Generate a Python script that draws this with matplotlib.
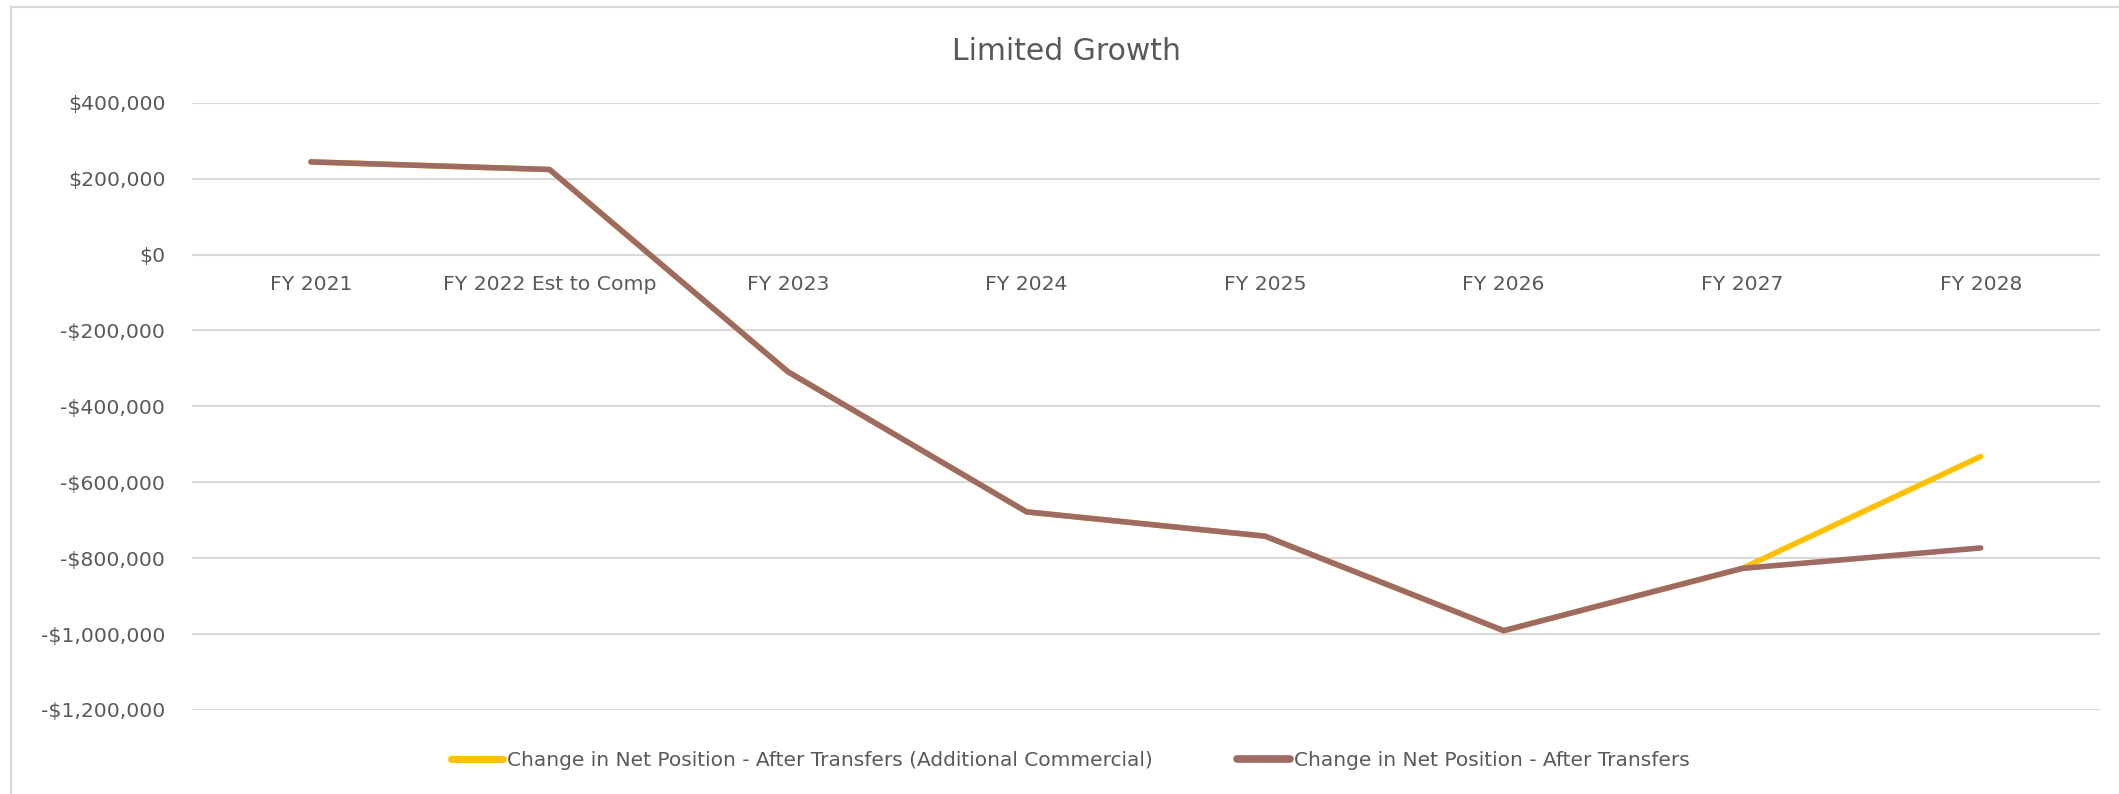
import matplotlib
matplotlib.use("Agg")
import matplotlib.pyplot as plt
from matplotlib.ticker import FuncFormatter, MultipleLocator
from matplotlib.lines import Line2D

categories = ["FY 2021", "FY 2022 Est to Comp", "FY 2023", "FY 2024", "FY 2025",
              "FY 2026", "FY 2027", "FY 2028"]
additional_commercial = [244000, 224000, -309000, -678000, -742000, -991000, -827000, -532000]
after_transfers = [244000, 224000, -309000, -678000, -742000, -991000, -827000, -773000]
title = "Limited Growth"
label_add = "Change in Net Position - After Transfers (Additional Commercial)"
label_base = "Change in Net Position - After Transfers"

plt.rcParams['font.family'] = ['DejaVu Sans']
TXT = "#595959"
GRID = "#d9d9d9"
YEL = "#FFC000"
BRN = "#9E6B64"

W, H = 2119, 794
fig = plt.figure(figsize=(W / 100, H / 100), dpi=100)
ax = fig.add_axes([191.7 / W, 1 - 710 / H, (2100 - 191.7) / W, (710 - 102.7) / H])

x = list(range(len(categories)))
ax.plot(x, additional_commercial, color=YEL, lw=4.0, solid_capstyle='round',
        solid_joinstyle='round', zorder=3)
ax.plot(x, after_transfers, color=BRN, lw=4.0, solid_capstyle='round',
        solid_joinstyle='round', zorder=4)

ax.set_xlim(-0.5, len(categories) - 0.5)
ax.set_ylim(-1200000, 400000)
ax.yaxis.set_major_locator(MultipleLocator(200000))

def fmt(v, pos):
    v = int(round(v))
    if v < 0:
        return "-${:,}".format(-v)
    return "${:,}".format(v)

ax.yaxis.set_major_formatter(FuncFormatter(fmt))
ax.set_xticks(x)
ax.set_xticklabels(categories)
ax.grid(axis='y', color=GRID, lw=1.5, zorder=0)
ax.set_axisbelow(True)
for s in ['top', 'right', 'left']:
    ax.spines[s].set_visible(False)
ax.spines['bottom'].set_position(('data', 0))
ax.spines['bottom'].set_visible(False)
ax.tick_params(axis='both', length=0, labelsize=14.7, colors=TXT)
ax.tick_params(axis='y', pad=19)
ax.tick_params(axis='x', pad=15)

fig.text(1066 / W, 1 - 52 / H, title, ha='center', va='center', fontsize=21.5, color=TXT)

handles = [Line2D([], [], color=YEL, lw=5, solid_capstyle='round'),
           Line2D([], [], color=BRN, lw=5.5, solid_capstyle='round')]
fig.legend(handles, [label_add, label_base], loc='center', ncol=2,
           bbox_to_anchor=(1070 / W, 1 - 761 / H), frameon=False,
           fontsize=14.5, labelcolor=TXT, handlelength=2.6, handletextpad=0.2,
           columnspacing=4.2)

# chart border (left and top edges visible)
fig.add_artist(Line2D([10.5 / W, 10.5 / W], [0, 1 - 7 / H], color=GRID, lw=1.5,
                      transform=fig.transFigure))
fig.add_artist(Line2D([10.5 / W, 1], [1 - 7 / H, 1 - 7 / H], color=GRID, lw=1.5,
                      transform=fig.transFigure))

fig.savefig("out.png", dpi=100, facecolor='white')
